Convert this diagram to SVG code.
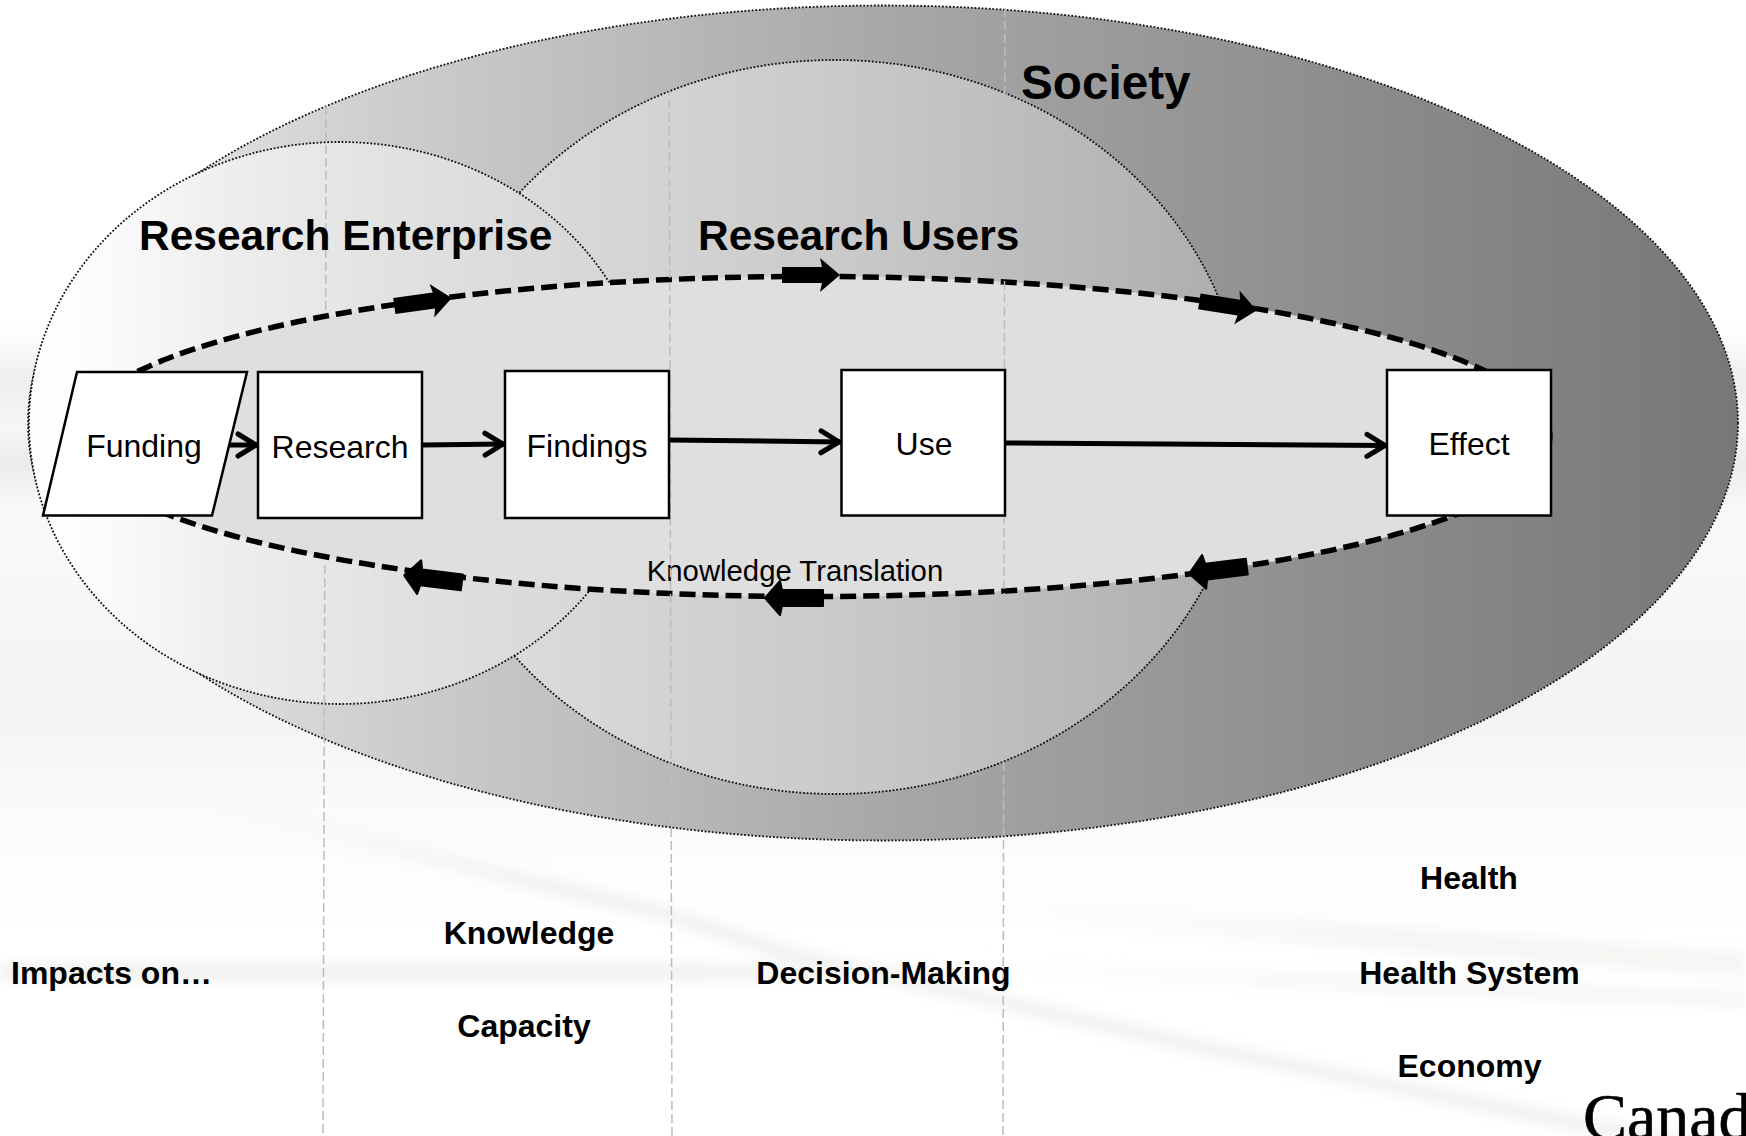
<svg xmlns="http://www.w3.org/2000/svg" width="1746" height="1136" viewBox="0 0 1746 1136">
<style>
text{font-family:"Liberation Sans",Arial,sans-serif;fill:#000}
.b{font-weight:bold;font-size:32px;text-anchor:middle}
.h{font-weight:bold;font-size:42.5px}
.n{font-size:32px;text-anchor:middle}
.box{fill:#fff;stroke:#000;stroke-width:2.5}
.el{stroke:#111;stroke-width:1.8;stroke-dasharray:1.8 1.8}
.flow{fill:none;stroke:#000;stroke-width:5;marker-end:url(#open)}
.guide{fill:none;stroke:#bdbdbd;stroke-width:1.5;stroke-dasharray:9 4}
</style>
<defs>
<linearGradient id="bg" x1="0" y1="0" x2="0" y2="1">
<stop offset="0" stop-color="#fff"/><stop offset=".285" stop-color="#fff"/><stop offset=".335" stop-color="#eee"/><stop offset=".375" stop-color="#f6f6f6"/><stop offset=".41" stop-color="#ececec"/><stop offset=".445" stop-color="#f8f8f8"/><stop offset=".5" stop-color="#f8f8f8"/><stop offset=".62" stop-color="#f3f3f1"/><stop offset=".72" stop-color="#fbfbfb"/><stop offset=".82" stop-color="#fff"/><stop offset="1" stop-color="#fff"/>
</linearGradient>
<linearGradient id="society" gradientUnits="userSpaceOnUse" x1="28" y1="0" x2="1738" y2="0">
<stop offset="0" stop-color="#f0f0f0"/><stop offset=".2" stop-color="#cfcfcf"/><stop offset=".5" stop-color="#a8a8a8"/><stop offset=".8" stop-color="#8a8a8a"/><stop offset="1" stop-color="#777"/>
</linearGradient>
<linearGradient id="users" gradientUnits="userSpaceOnUse" x1="425" y1="0" x2="1245" y2="0">
<stop offset="0" stop-color="#e0e0e0"/><stop offset=".5" stop-color="#cacaca"/><stop offset="1" stop-color="#adadad"/>
</linearGradient>
<linearGradient id="enterprise" gradientUnits="userSpaceOnUse" x1="29" y1="0" x2="651" y2="0">
<stop offset="0" stop-color="#fff"/><stop offset=".12" stop-color="#fbfbfb"/><stop offset=".32" stop-color="#eeeeee"/><stop offset=".6" stop-color="#e1e1e1"/><stop offset="1" stop-color="#d4d4d4"/>
</linearGradient>
<linearGradient id="fadeD" gradientUnits="userSpaceOnUse" x1="163" y1="0" x2="560" y2="0">
<stop offset="0" stop-color="#eeeeec" stop-opacity="0"/><stop offset="1" stop-color="#eeeeec"/>
</linearGradient>
<linearGradient id="fadeH" gradientUnits="userSpaceOnUse" x1="0" y1="0" x2="1000" y2="0">
<stop offset="0" stop-color="#eeeeec"/><stop offset=".7" stop-color="#eeeeec"/><stop offset="1" stop-color="#eeeeec" stop-opacity="0"/>
</linearGradient>
<linearGradient id="fadeR" gradientUnits="userSpaceOnUse" x1="950" y1="0" x2="1400" y2="0">
<stop offset="0" stop-color="#f5f5f3" stop-opacity="0"/><stop offset="1" stop-color="#f5f5f3"/>
</linearGradient>
<filter id="blur" filterUnits="userSpaceOnUse" x="-100" y="700" width="1950" height="500"><feGaussianBlur stdDeviation="7"/></filter>
<marker id="open" markerUnits="userSpaceOnUse" markerWidth="32" markerHeight="32" refX="26" refY="16" orient="auto"><path d="M6 5L24 16L6 27" fill="none" stroke="#000" stroke-width="5" stroke-linecap="round"/></marker>
<path id="fat" d="M-29 -8L11 -8L9 -17L29 0L9 17L11 8L-29 8Z" fill="#000"/>
<path id="fatb" d="M-30 0L-15 -17L-13 -8H28V8H-13L-15 17Z" fill="#000" stroke="#000" stroke-width="2" stroke-linejoin="round"/>
</defs>
<rect id="background" width="1746" height="1136" fill="url(#bg)"/>
<g fill="none" filter="url(#blur)">
<path d="M0 972H1000" stroke="url(#fadeH)" stroke-width="14"/>
<path d="M163 790L326 830L510 877L663 913L800 957L1002 1002L1200 1047L1546 1117L1746 1155" stroke="url(#fadeD)" stroke-width="12" stroke-linejoin="round"/>
<path d="M950 905L1746 965" stroke="url(#fadeR)" stroke-width="25"/>
<path d="M950 965L1746 1000" stroke="url(#fadeR)" stroke-width="15"/>
</g>
<g id="society-region"><ellipse class="el" cx="883" cy="423" rx="855" ry="417.5" fill="url(#society)"/></g>
<g id="users-region"><ellipse class="el" cx="835" cy="427" rx="410" ry="367" fill="url(#users)"/></g>
<g id="enterprise-region"><ellipse class="el" cx="340" cy="423" rx="311" ry="281" fill="url(#enterprise)"/></g>
<g id="guides-back">
<path class="guide" d="M326 106L325.7 310"/>
<path class="guide" d="M324.8 565L323 1136"/>
</g>
<g id="knowledge-translation">
<ellipse cx="812" cy="436.5" rx="738" ry="160" fill="#dfdfdf" stroke="#000" stroke-width="5.5" stroke-dasharray="16 7"/>
<text x="795" y="581" font-size="29.3" text-anchor="middle">Knowledge Translation</text>
</g>
<g id="guides">
<path class="guide" d="M669 22L672 1136"/>
<path class="guide" d="M1005 8L1003 1136"/>
</g>
<g id="connectors">
<path class="flow" d="M228 445H258"/>
<path class="flow" d="M422 445L505 444"/>
<path class="flow" d="M669 440L841 442"/>
<path class="flow" d="M1005 443L1387 445.5"/>
<use href="#fat" transform="translate(423 302) rotate(-8)"/>
<use href="#fat" transform="translate(811 275)"/>
<use href="#fat" transform="translate(1228 306) rotate(9)"/>
<use href="#fatb" transform="translate(434 579) rotate(7)"/>
<use href="#fatb" transform="translate(795 598)"/>
<use href="#fatb" transform="translate(1219 570) rotate(-7)"/>
</g>
<g id="funding"><path class="box" d="M77 372H247L212 515.5H43Z"/><text class="n" x="144" y="457">Funding</text></g>
<g id="research"><rect class="box" x="258" y="372" width="164" height="146"/><text class="n" x="340" y="458">Research</text></g>
<g id="findings"><rect class="box" x="505" y="371" width="164" height="147"/><text class="n" x="587" y="457">Findings</text></g>
<g id="use"><rect class="box" x="841.5" y="370" width="163.5" height="145.5"/><text class="n" x="924" y="455">Use</text></g>
<g id="effect"><rect class="box" x="1387" y="370" width="164" height="145.5"/><text class="n" x="1469" y="455">Effect</text></g>
<g id="labels">
<text class="h" x="1021" y="99" style="font-size:47.7px">Society</text>
<text class="h" x="139" y="250">Research Enterprise</text>
<text class="h" x="698" y="250">Research Users</text>
<text class="b" x="11" y="984" style="text-anchor:start">Impacts on…</text>
<text class="b" x="529" y="944">Knowledge</text>
<text class="b" x="524" y="1037">Capacity</text>
<text class="b" x="883.5" y="984">Decision-Making</text>
<text class="b" x="1469" y="889">Health</text>
<text class="b" x="1469.5" y="984">Health System</text>
<text class="b" x="1469.5" y="1077">Economy</text>
<text x="1583" y="1139" style="font-family:'Liberation Serif',serif;font-size:66px;stroke:#000;stroke-width:.6">Canad</text>
</g>
</svg>
